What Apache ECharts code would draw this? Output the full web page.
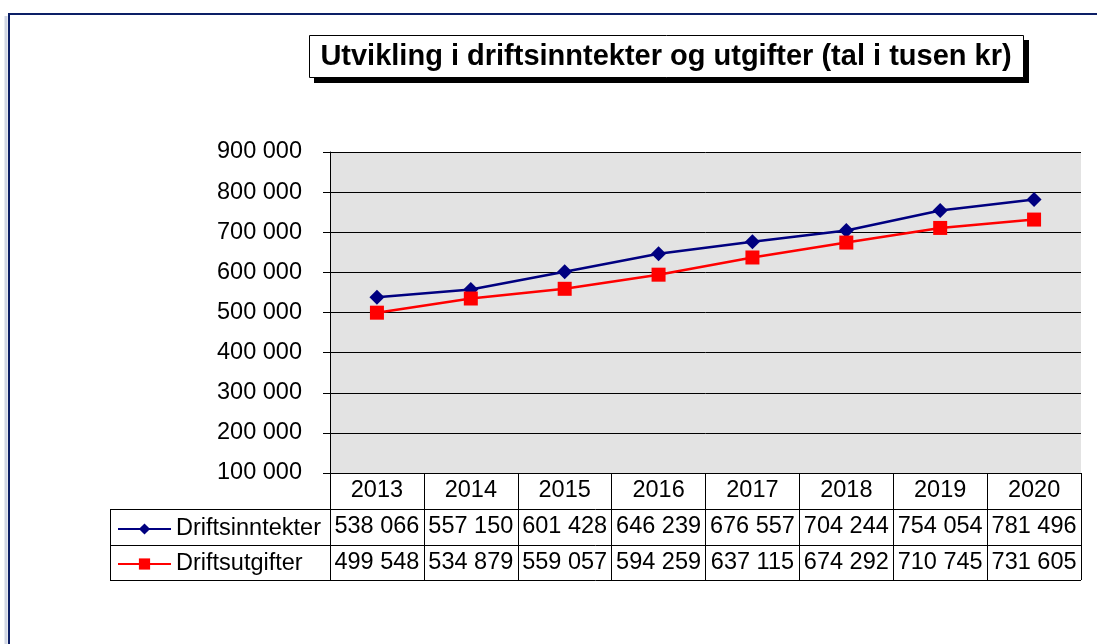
<!DOCTYPE html>
<html>
<head>
<meta charset="utf-8">
<script src="https://cdn.jsdelivr.net/npm/echarts@6/dist/echarts.min.js"></script>
<style>
	html, body { margin: 0; padding: 0; background: #fff; }
	#chart { width: 1097px; height: 644px; }
</style>
</head>
<body>
<div id="chart"></div>
<script>
	'use strict';

	var years = ['2013', '2014', '2015', '2016', '2017', '2018', '2019', '2020'];
	var inntekter = [538066, 557150, 601428, 646239, 676557, 704244, 754054, 781496];
	var utgifter = [499548, 534879, 559057, 594259, 637115, 674292, 710745, 731605];
	var yTicks = { min: 100000, max: 900000, step: 100000 };

	function fmt(v) {
		return String(v).replace(/\B(?=(\d{3})+(?!\d))/g, ' ');
	}

	var font = '"Liberation Sans", Arial, sans-serif';
	var fs = 23.5;
	var chart = echarts.init(document.getElementById('chart'));

	chart.setOption({
		animation: false,
		backgroundColor: '#fff',
		textStyle: { fontFamily: font },
		grid: {
			left: 330,
			right: 16,
			top: 152,
			bottom: 171,
			show: true,
			backgroundColor: '#e3e3e3',
			borderWidth: 0
		},
		legend: {
			orient: 'vertical',
			left: 112,
			top: 512,
			padding: 5,
			itemWidth: 53,
			itemHeight: 14,
			itemGap: 11,
			selectedMode: false,
			textStyle: { fontSize: fs, color: '#000', lineHeight: 24, fontFamily: font },
			data: ['Driftsinntekter', 'Driftsutgifter']
		},
		xAxis: {
			type: 'category',
			data: years,
			boundaryGap: true,
			axisLine: { lineStyle: { color: '#000', width: 1 } },
			axisTick: { show: true, interval: 0, length: 107, lineStyle: { color: '#000' } },
			axisLabel: {
				interval: 0,
				margin: 0,
				formatter: function(v, i) {
					return '{y|' + v + '}\n{v|' + fmt(inntekter[i]) + '}\n{v|' + fmt(utgifter[i]) + '}';
				},
				rich: {
					y: { fontSize: fs, lineHeight: 36, color: '#000', fontFamily: font },
					v: { fontSize: fs, lineHeight: 36, color: '#000', fontFamily: font }
				}
			}
		},
		yAxis: {
			type: 'value',
			min: yTicks.min,
			max: yTicks.max,
			interval: yTicks.step,
			axisLine: { show: true, lineStyle: { color: '#000' } },
			axisTick: { show: true, length: 7, lineStyle: { color: '#000' } },
			axisLabel: {
				margin: 28,
				fontSize: fs,
				color: '#000',
				fontFamily: font,
				formatter: function(v) { return fmt(v); }
			},
			splitLine: { lineStyle: { color: '#000', width: 1 } }
		},
		series: [{
			name: 'Driftsinntekter',
			type: 'line',
			data: inntekter,
			symbol: 'diamond',
			symbolSize: 15,
			color: '#000080',
			lineStyle: { color: '#000080', width: 2.5 },
			itemStyle: { color: '#000080' }
		}, {
			name: 'Driftsutgifter',
			type: 'line',
			data: utgifter,
			symbol: 'rect',
			symbolSize: 14,
			color: '#ff0000',
			lineStyle: { color: '#ff0000', width: 2.5 },
			itemStyle: { color: '#ff0000' }
		}],
		graphic: [
			// outer frame
			{ type: 'line', shape: { x1: 6, y1: 16, x2: 6, y2: 644 }, style: { stroke: '#d0d6e4', lineWidth: 3 } },
			{ type: 'rect', shape: { x: 9, y: 14, width: 1200, height: 700 }, style: { fill: null, stroke: '#0c1f66', lineWidth: 2 } },
			// table lines
			{ type: 'line', shape: { x1: 110, y1: 509.5, x2: 1081, y2: 509.5 }, style: { stroke: '#000', lineWidth: 1 } },
			{ type: 'line', shape: { x1: 110, y1: 545.5, x2: 1081, y2: 545.5 }, style: { stroke: '#000', lineWidth: 1 } },
			{ type: 'line', shape: { x1: 110, y1: 580.5, x2: 1081, y2: 580.5 }, style: { stroke: '#000', lineWidth: 1 } },
			{ type: 'line', shape: { x1: 110.5, y1: 509, x2: 110.5, y2: 581 }, style: { stroke: '#000', lineWidth: 1 } },
			// title box
			{ type: 'rect', shape: { x: 314, y: 40, width: 715, height: 43 }, style: { fill: '#000' } },
			{ type: 'rect', shape: { x: 309.5, y: 35.5, width: 714, height: 42 }, style: { fill: '#fff', stroke: '#000', lineWidth: 1 } },
			{
				type: 'text', x: 666, y: 57,
				style: {
					text: 'Utvikling i driftsinntekter og utgifter (tal i tusen kr)',
					font: 'bold 29px ' + font,
					fill: '#000',
					align: 'center',
					verticalAlign: 'middle'
				}
			}
		]
	});
</script>
</body>
</html>
